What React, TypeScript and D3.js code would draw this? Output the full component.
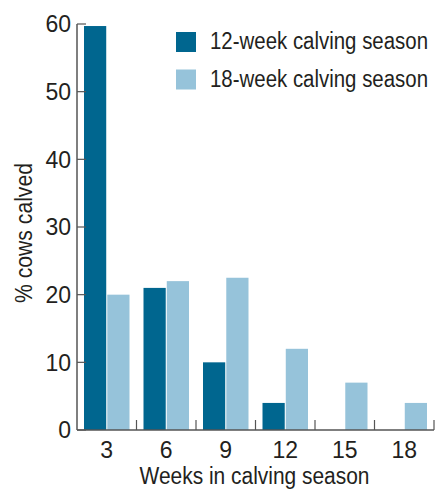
import React from 'react'
import * as d3 from 'd3'

const weeks = ['3', '6', '9', '12', '15', '18']
const season12 = [59.7, 21, 10, 4, 0, 0]
const season18 = [20, 22, 22.5, 12, 7, 4]
const seriesNames = ['12-week calving season', '18-week calving season']
const yTicks = [0, 10, 20, 30, 40, 50, 60]

const colors = ['#00668f', '#96c3da']
const textColor = '#231f20'
const axisColor = '#555'
const font = "'Liberation Sans Narrow', 'Arial Narrow', sans-serif"

const App = () => {
    const width = 437, height = 489
    const margin = { top: 24, right: 3, bottom: 59, left: 77 }
    const innerW = width - margin.left - margin.right
    const innerH = height - margin.top - margin.bottom

    // band per week, two bars inside
    const x = d3.scaleBand().domain(weeks).range([0, innerW]).paddingInner(0).paddingOuter(0)
    const inner = d3.scaleBand().domain(['a', 'b']).range([7, x.bandwidth() - 7]).paddingInner(0.045)
    const y = d3.scaleLinear().domain([0, 60]).range([innerH, 0])

    const series = [season12, season18]

    return (
        <svg width={width} height={height} style={{ position: 'absolute', left: 0, top: 0 }}
            fontFamily={font}>
            <g transform={`translate(${margin.left},${margin.top})`}>
                {series.map((vals, si) =>
                    vals.map((v, i) => v > 0 ? (
                        <rect key={si + '-' + i}
                            x={x(weeks[i])! + inner(si === 0 ? 'a' : 'b')!}
                            width={inner.bandwidth()}
                            y={y(v)}
                            height={innerH - y(v)}
                            fill={colors[si]} />
                    ) : null)
                )}
                {/* y axis */}
                <line x1={0} x2={0} y1={0} y2={innerH} stroke={axisColor} strokeWidth={1.5} />
                {yTicks.map(t => (
                    <g key={t} transform={`translate(0,${y(t)})`}>
                        <line x1={0} x2={9} stroke={axisColor} strokeWidth={1.2} />
                        <text x={-6} dy="0.36em" textAnchor="end" fontSize={23} fill={textColor}>{t}</text>
                    </g>
                ))}
                {/* x axis */}
                <line x1={0} x2={innerW} y1={innerH} y2={innerH} stroke={axisColor} strokeWidth={1.5} />
                {weeks.map(w => (
                    <g key={w} transform={`translate(${x(w)!},${innerH})`}>
                        <line x1={x.bandwidth()} x2={x.bandwidth()} y1={0} y2={-10} stroke={axisColor} strokeWidth={1.2} />
                        <text x={x.bandwidth() / 2} y={28} textAnchor="middle" fontSize={23} fill={textColor}>{w}</text>
                    </g>
                ))}
                <text x={innerW / 2 - 1} y={innerH + 54} textAnchor="middle" fontSize={23} fill={textColor}
                    textLength={230} lengthAdjust="spacingAndGlyphs">
                    Weeks in calving season
                </text>
                <text transform={`translate(${-45},${innerH / 2 + 6}) rotate(-90)`} textAnchor="middle"
                    fontSize={23} fill={textColor} textLength={140} lengthAdjust="spacingAndGlyphs">% cows calved</text>
            </g>
            {/* legend */}
            {seriesNames.map((name, i) => (
                <g key={name} transform={`translate(176,${32 + i * 37.5})`}>
                    <rect width={20} height={20} fill={colors[i]} />
                    <text x={34} y={17} fontSize={23} fill={textColor}
                        textLength={218} lengthAdjust="spacingAndGlyphs">{name}</text>
                </g>
            ))}
        </svg>
    )
}

export default App
